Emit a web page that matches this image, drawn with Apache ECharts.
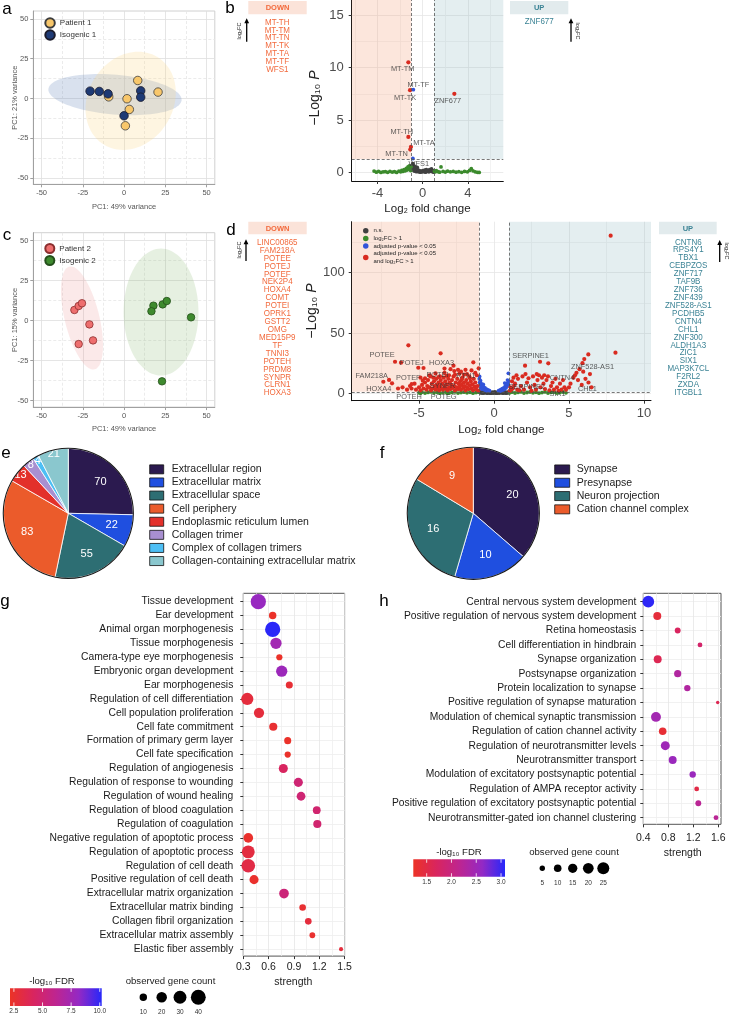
<!DOCTYPE html>
<html><head><meta charset="utf-8">
<script src="https://cdn.jsdelivr.net/npm/echarts@6/dist/echarts.min.js"></script>
<style>html,body{margin:0;padding:0;background:#fff}#c{width:731px;height:1015px}</style>
</head><body><div id="c"></div>
<script>
const FONT = 'Liberation Sans';

// ---------------- a : PCA patient 1 / isogenic 1 ----------------
const pcaAPatient  = [[8.3,11.3],[20.6,4.0],[-9.3,1.0],[1.8,-0.2],[3.2,-6.9],[0.8,-17.2]];
const pcaAIsogenic = [[-20.6,4.6],[-15.0,4.4],[-9.7,2.9],[10.1,4.8],[10.1,0.8],[0.0,-10.9]];
// ellipse: [centerX, centerY, radiusA, radiusB, angleDeg]
const pcaAEllipseIsogenic = [-5.5,2.4,40.5,12.5,-5];
const pcaAEllipsePatient  = [4,-1.5,32,26,63];
// ---------------- c : PCA patient 2 / isogenic 2 ----------------
const pcaCPatient  = [[-30.1,6.7],[-27.5,9.2],[-25.5,10.9],[-21.0,-2.3],[-27.5,-14.6],[-18.8,-12.3]];
const pcaCIsogenic = [[17.8,9.4],[16.6,5.9],[23.4,10.2],[25.9,12.3],[40.6,2.1],[23.0,-37.9]];
const pcaCEllipsePatient  = [-25.5,1.7,33,10.5,103.3];
const pcaCEllipseIsogenic = [22.4,5.4,22.7,39.7,0];
const pcaTicks = [-50,-25,0,25,50];
const pcaMinor = [-37.5,-12.5,12.5,37.5];

// ---------------- b : volcano 1 ----------------
const bDown = ['MT-TH','MT-TM','MT-TN','MT-TK','MT-TA','MT-TF','WFS1'];
const bUp = ['ZNF677'];
const bGray = [[-0.95,0.7],[-0.92,0.35],[-0.9,0.55],[-0.87,0.85],[-0.84,0.25],[-0.8,0.45],[-0.77,0.65],[-0.74,0.15],[-0.7,0.35],[-0.67,0.55],[-0.63,0.2],[-0.6,0.4],[-0.56,0.1],[-0.52,0.3],[-0.48,0.5],[-0.44,0.15],[-0.4,0.25],[-0.35,0.08],[-0.3,0.2],[-0.25,0.12],[-0.2,0.05],[-0.12,0.15],[-0.05,0.08],[0.02,0.2],[0.1,0.1],[0.18,0.25],[0.25,0.05],[0.32,0.3],[0.4,0.12],[0.48,0.22],[0.55,0.08],[0.62,0.28],[0.7,0.15],[0.78,0.35],[0.85,0.1],[0.92,0.2],[0.97,0.05]];
const bGreen = [[-4.3,0.15],[-4.1,0.05],[-3.9,0.12],[-3.7,0.03],[-3.5,0.08],[-3.3,0.1],[-3.1,0.04],[-2.9,0.12],[-2.7,0.06],[-2.5,0.1],[-2.3,0.03],[-2.1,0.15],[-1.95,0.08],[-1.85,0.22],[-1.75,0.12],[-1.65,0.3],[-1.55,0.18],[-1.45,0.4],[-1.38,0.25],[-1.3,0.55],[-1.24,0.35],[-1.18,0.65],[-1.12,0.45],[-1.06,0.2],[-1.03,0.55],[1.04,0.15],[1.1,0.08],[1.2,0.2],[1.35,0.1],[1.5,0.05],[1.62,0.55],[1.8,0.12],[2.0,0.06],[2.2,0.14],[2.45,0.08],[2.7,0.12],[2.95,0.05],[3.2,0.1],[3.45,0.04],[3.7,0.12],[3.95,0.08],[4.15,0.22],[4.3,0.38],[4.45,0.18],[4.65,0.08],[4.85,0.04],[5.0,0.03]];
const bBlue = [[-0.83,7.9],[-0.87,1.35]];
const bBlueNames = ['MT-TF','WFS1'];
const bRed = [[-1.27,10.5],[-1.12,7.85],[2.8,7.5],[-1.27,3.4],[-1.04,2.45],[-1.1,2.2]];
const bRedNames = ['MT-TM','MT-TK','ZNF677','MT-TH','MT-TA','MT-TN'];
const bXTicks = [-4,0,4], bXMinor = [-6,-2,2,6];
const bYTicks = [0,5,10,15], bYMinor = [2.5,7.5,12.5];

// ---------------- d : volcano 2 ----------------
const dDown = ['LINC00865','FAM218A','POTEE','POTEJ','POTEF','NEK2P4','HOXA4','COMT','POTEI','OPRK1','GSTT2','OMG','MED15P9','TF','TNNI3','POTEH','PRDM8','SYNPR','CLRN1','HOXA3'];
const dUp = ['CNTN6','RPS4Y1','TBX1','CEBPZOS','ZNF717','TAF9B','ZNF736','ZNF439','ZNF528-AS1','PCDHB5','CNTN4','CHL1','ZNF300','ALDH1A3','ZIC1','SIX1','MAP3K7CL','F2RL2','ZXDA','ITGBL1'];
const dGray = [[-0.95,1.0],[-0.9,0.5],[-0.85,1.2],[-0.8,0.3],[-0.75,0.9],[-0.7,0.2],[-0.65,0.7],[-0.6,1.1],[-0.55,0.4],[-0.5,0.8],[-0.45,0.1],[-0.4,0.6],[-0.35,1.0],[-0.3,0.3],[-0.25,0.7],[-0.2,0.1],[-0.15,0.5],[-0.1,0.9],[-0.05,0.2],[0,0.6],[0.05,1.1],[0.1,0.3],[0.15,0.8],[0.2,0.1],[0.25,0.5],[0.3,1.0],[0.35,0.2],[0.4,0.7],[0.45,1.2],[0.5,0.4],[0.55,0.9],[0.6,0.1],[0.65,0.6],[0.7,1.1],[0.75,0.3],[0.8,0.8],[0.85,0.2],[0.9,1.0],[0.95,0.5]];
const dGreen = [[-5.0,0.5],[-4.9,0.1],[-4.8,1.0],[-4.6,0.2],[-4.4,0.8],[-4.2,1.2],[-4.0,0.4],[-3.8,0.9],[-3.6,0.1],[-3.4,0.6],[-3.2,1.1],[-3.1,0.05],[-3.0,0.3],[-2.8,0.8],[-2.6,1.2],[-2.4,0.2],[-2.2,0.7],[-2.0,1.0],[-1.8,0.4],[-1.6,0.9],[-1.4,0.1],[-1.2,0.6],[-1.05,1.1],[1.05,0.5],[1.2,1.0],[1.4,0.3],[1.6,0.8],[1.8,1.2],[2.0,0.2],[2.2,0.7],[2.4,1.1],[2.6,0.4],[2.8,0.9],[3.0,0.1],[3.2,0.6],[3.4,1.2],[3.6,0.3],[3.8,0.8],[4.0,1.0],[4.2,0.2],[4.4,0.7],[4.6,1.1],[4.8,0.4]];
const dBlue = [[-0.98,12],[-0.96,14],[-0.95,9],[-0.92,7],[-0.9,10.5],[-0.88,5],[-0.85,8],[-0.82,3.5],[-0.8,6],[-0.75,4],[-0.72,7.5],[-0.7,5.5],[-0.65,3],[-0.6,4.5],[-0.55,2.5],[-0.5,3.5],[-0.45,2],[-0.4,2.8],[-0.35,1.8],[-0.3,2.2],[0.3,2],[0.35,2.5],[0.4,1.8],[0.45,3],[0.5,2.3],[0.55,3.8],[0.6,2.8],[0.65,4.5],[0.7,3.5],[0.72,8.5],[0.75,6],[0.8,4.5],[0.85,8],[0.88,6],[0.9,11],[0.93,7.5],[0.96,16.6],[0.98,10]];
const dRed = [[-5.71,39.8],[-6.2,25.4],[-4.7,21],[-2.7,22.9],[-2.4,19.5],[-1.38,25.7],[-1.02,20.7],[-7.0,11.1],[-6.8,8.3],[-3.3,20.5],[-2.9,20],[-1.8,16],[-1.5,19],[-4.3,15],[-3.9,16.5],[-3.6,14],[-2.6,15.5],[-6.1,5],[-6.4,4],[-5.8,3],[-5.5,4],[-5.3,8],[-5.6,6],
 [-5.2,3],[-5.0,5],[-4.8,7],[-4.7,4],[-4.6,9],[-4.45,6],[-4.4,11],[-4.3,5],[-4.2,2.5],[-4.15,8],[-4.1,4],[-4.0,10],[-3.95,6],[-3.9,3],[-3.85,12],[-3.8,7],[-3.75,4.5],[-3.7,9],[-3.55,11],[-3.5,4],[-3.45,8],[-3.4,3],[-3.35,13],[-3.3,6],[-3.25,10],[-3.2,4],[-3.15,7.5],[-3.1,2.5],[-3.05,12],[-3.0,5],[-2.95,9],[-2.9,3.5],[-2.85,7],[-2.8,11],[-2.75,4.5],[-2.7,14],[-2.65,6],[-2.6,2.5],[-2.55,9],[-2.5,5],[-2.45,12],[-2.4,3.5],[-2.35,8],[-2.3,5.5],[-2.25,10],[-2.2,3],[-2.15,7],[-2.1,13],[-2.05,4.5],[-2.0,9],[-1.95,6],[-1.9,2.5],[-1.85,11],[-1.8,5],[-1.75,8],[-1.7,3.5],[-1.65,14],[-1.6,6.5],[-1.55,10],[-1.5,4],[-1.45,7.5],[-1.4,2.5],[-1.35,12],[-1.3,5.5],[-1.25,9],[-1.2,3.5],[-1.15,15],[-1.1,6],[-1.05,2.2],[-4.9,13],[-4.6,12.5],[-3.0,15],[-2.0,15.5],[-4.25,14],[-3.7,13.5],[-2.3,16.5],[-4.75,10.5],[-4.05,13],[-3.15,14.5],[-2.15,11.5],[-1.6,12.5],[-1.25,17],[-1.9,19.5],[-2.65,18.5],
 [7.78,130.7],[8.1,33.7],[6.29,32.3],[6.02,28.4],[5.9,25],[5.5,17],[5.6,11],[6.1,12],[5.85,7],[6.5,5],[5.1,8],[4.7,5],[3.62,24.9],[2.07,22.9],[1.5,15],[1.3,13],[1.2,10],[1.1,5],[1.15,3],[1.4,8],[1.6,12],[1.8,6],[1.9,14],[2.0,3],[2.3,12.5],[2.4,5],[2.6,14],[2.7,7],[2.8,3],[2.9,11],[3.0,15],[3.1,5],[3.2,13],[3.3,8],[3.4,3.5],[3.5,11],[3.6,14],[3.8,6],[3.9,9],[4.0,3],[4.1,12],[4.2,5],[4.4,8],[4.6,11],[4.8,3],[5.0,5],[1.05,2],[1.25,4],[1.7,2.5],[2.5,2],[3.7,2.5],[4.3,2],[1.35,6.5],[1.55,3],[2.1,16],[2.85,16],[3.35,15],[5.4,15],[5.95,18],[6.4,16]];
const dRedLabeled = [['POTEE',-6.6,26.2],['POTEJ',-5.05,21.2],['HOXA3',-3.56,33.2],['FAM218A',-7.38,9.6],['POTEF',-5.49,7.7],['POTEI',-3.3,17],['RTN1',-2.2,18],['HOXA4',-4.5,3],['SYNPR',-3.6,6],['POTEH',-4.9,2.5],['POTEG',-3.65,2.5],['SERPINE1',3.07,26.2],['SERPINE2',2.2,9],['ZNF528-AS1',5.7,20],['CNTN4',5.3,13],['CHL1',6.3,9],['SIX1',4.5,3]];
const dXTicks = [-5,0,5,10], dXMinor = [-7.5,-2.5,2.5,7.5];
const dYTicks = [0,50,100], dYMinor = [25,75,125];
const fcCut = 1, pCut = 1.3;
const volcanoNames = ['n.s.','log₂FC > 1','adjusted p-value < 0.05','adjusted p-value < 0.05\nand log₂FC > 1'];

// ---------------- e / f : pies ----------------
const eNames = ['Extracellular region','Extracellular matrix','Extracellular space','Cell periphery','Endoplasmic reticulum lumen','Collagen trimer','Complex of collagen trimers','Collagen-containing extracellular matrix'];
const eValues = [70,22,55,83,13,8,4,21];
const fNames = ['Synapse','Presynapse','Neuron projection','Cation channel complex'];
const fValues = [20,10,16,9];

// ---------------- g : GO terms (patient 2) ----------------
const gTerms = ['Tissue development','Ear development','Animal organ morphogenesis','Tissue morphogenesis','Camera-type eye morphogenesis','Embryonic organ development','Ear morphogenesis','Regulation of cell differentiation','Cell population proliferation','Cell fate commitment','Formation of primary germ layer','Cell fate specification','Regulation of angiogenesis','Regulation of response to wounding','Regulation of wound healing','Regulation of blood coagulation','Regulation of coagulation','Negative regulation of apoptotic process','Regulation of apoptotic process','Regulation of cell death','Positive regulation of cell death','Extracellular matrix organization','Extracellular matrix binding','Collagen fibril organization','Extracellular matrix assembly','Elastic fiber assembly'];
const gStrength = [0.478,0.648,0.648,0.687,0.727,0.755,0.845,0.347,0.486,0.655,0.826,0.826,0.774,0.952,0.984,1.17,1.177,0.359,0.359,0.359,0.427,0.782,1.003,1.07,1.118,1.458];
const gFdr = [8.0,2.3,10.1,7.5,2.3,7.8,2.7,3.0,3.0,2.6,2.3,2.3,4.2,5.0,5.0,4.8,4.8,2.4,3.1,3.3,2.4,5.2,2.6,3.0,2.5,3.0];
const gCount = [42,10,42,23,7,23,9,27,19,12,9,7,15,15,14,11,12,17,30,34,15,17,8,8,6,3];
const gXTicks = [0.3,0.6,0.9,1.2,1.5], gXMinor = [0.45,0.75,1.05,1.35];
const gColorTicks = [2.5,5.0,7.5,10.0];
const gSizeTicks = [10,20,30,40];

// ---------------- h : GO terms (neuronal) ----------------
const hTerms = ['Central nervous system development','Positive regulation of nervous system development','Retina homeostasis','Cell differentiation in hindbrain','Synapse organization','Postsynapse organization','Protein localization to synapse','Positive regulation of synapse maturation','Modulation of chemical synaptic transmission','Regulation of cation channel activity','Regulation of neurotransmitter levels','Neurotransmitter transport','Modulation of excitatory postsynaptic potential','Regulation of AMPA receptor activity','Positive regulation of excitatory postsynaptic potential','Neurotransmitter-gated ion channel clustering'];
const hStrength = [0.48,0.624,0.95,1.307,0.63,0.95,1.104,1.59,0.603,0.71,0.752,0.87,1.19,1.254,1.28,1.563];
const hFdr = [3.05,1.4,1.7,1.8,1.6,2.3,2.3,1.6,2.45,1.35,2.5,2.55,2.55,1.5,2.2,2.2];
const hCount = [24,11,6,4,11,9,7,2,17,10,14,11,7,4,6,4];
const hXTicks = [0.4,0.8,1.2,1.6], hXMinor = [0.6,1.0,1.4];
const hColorTicks = [1.5,2.0,2.5,3.0];
const hSizeTicks = [5,10,15,20,25];

// ================= styles / layout =================
const C = {
  yellow:'#F8C76B', navy:'#1E3A75', salmon:'#EE6E6E', green2:'#3E8A2E',
  ns:'#404040', fc:'#3B8A2C', padj:'#3254D9', both:'#D92B20',
  downTxt:'#F26A3D', upTxt:'#3A8294', downBox:'#FBE3D9', upBox:'#E2EBED'
};
const eColors = ['#2B1A4F','#1F4FE0','#2D6E73','#EB5B2B','#E3302A','#A88FD0','#4DBFF5','#8AC7CE'];
const fColors = ['#2B1A4F','#1F4FE0','#2D6E73','#EB5B2B'];
const ramp = ['#EC3326','#D9255E','#BE2590','#9429C4','#2727FA'];
const gColorRange = [2.16,10.17], hColorRange = [1.23,3.08];
const gSize = n => 2.35*Math.sqrt(n), hSize = n => 2.4*Math.sqrt(n);
const labelOffsets = {
  'MT-TM':[-5.7,6.7],'MT-TF':[5,-4.4],'MT-TK':[-5,8],'ZNF677':[-6.6,6.8],'MT-TH':[-6.6,-5],'MT-TA':[13,-4.2],'MT-TN':[-13.6,4.4],'WFS1':[6,5.8],
  'POTEE':[-13,-7],'POTEJ':[-6.5,-4.4],'HOXA3':[1,9.4],'FAM218A':[-11.6,-5.7],'POTEF':[-3.4,-5.7],'POTEI':[-7,2.2],'RTN1':[4.8,4.1],'HOXA4':[-47.8,-0.7],'SYNPR':[2.5,0],'POTEH':[-11.5,7],'POTEG':[4.4,7],'SERPINE1':[-9.5,-5.7],'SERPINE2':[-0.3,4.3],'ZNF528-AS1':[13,-2.5],'CNTN4':[-11.5,0.7],'CHL1':[-1,6.6],'SIX1':[-4,4.6]
};

const ax = {
  a:{x:[-55,55], y:[-54,55]}, c:{x:[-55,55], y:[-54,55]},
  b:{x:[-6.28,7.13], y:[-0.79,16.43]}, d:{x:[-9.49,10.47], y:[-6.1,142.3]},
  g:{x:[0.3,1.5], y:[-0.6,25.5]}, h:{x:[0.4,1.643], y:[-0.583,15.46]}
};

const grids = [
  {left:33.3, top:11, width:181.5, height:173.3, show:true, borderColor:'#d0d0d0', borderWidth:1},
  {left:351.7, top:0, width:151.6, height:181},
  {left:33.3, top:232.7, width:181.5, height:174.4, show:true, borderColor:'#d0d0d0', borderWidth:1},
  {left:351.7, top:221.7, width:299.3, height:179},
  {left:243.3, top:593.3, width:101.3, height:362.8, show:true, borderColor:'#555', borderWidth:1},
  {left:643.3, top:593.3, width:77.7, height:231, show:true, borderColor:'#555', borderWidth:1}
].map(g => Object.assign({containLabel:false, outerBoundsMode:'none', backgroundColor:'transparent'}, g));

function mainAxis(p){
  return {
    type:'value', gridIndex:p.grid, min:p.range[0], max:p.range[1], position:p.pos, inverse:!!p.inverse,
    axisLine:{show:p.line!==false, onZero:false, lineStyle:{color:p.lineColor||'#000', width:1}},
    axisTick:{show:true, inside:false, length:p.tickLen||3, customValues:p.ticks, lineStyle:{color:p.tickColor||p.lineColor||'#333', width:1}},
    axisLabel:{show:true, customValues:p.ticks, margin:p.margin, color:p.labelColor, fontSize:p.labelSize, fontFamily:FONT, formatter:p.formatter||(v=>String(v))},
    splitLine:{show:!!p.split, lineStyle:{color:p.split||'#eee', width:0.8, type:'solid'}},
    minorTick:{show:false}, minorSplitLine:{show:false}
  };
}
function minorAxis(p){
  return {
    type:'value', gridIndex:p.grid, min:p.range[0], max:p.range[1], position:p.pos, inverse:!!p.inverse,
    axisLine:{show:false, onZero:false}, axisTick:{show:false, customValues:p.values},
    axisLabel:{show:false, customValues:p.values},
    splitLine:{show:true, lineStyle:{color:p.color, width:0.8, type:p.type||'solid'}}
  };
}
const pcaStyle = {lineColor:'#a0a0a0', tickColor:'#a0a0a0', labelColor:'#555', labelSize:7.5, margin:5, split:'#dedede'};
const volStyle = {lineColor:'#111', tickColor:'#333', labelColor:'#4d4d4d', labelSize:13, split:'#e6e6e6'};
const goStyle = {line:false, tickColor:'#333', labelColor:'#1a1a1a', labelSize:10.5, split:'#e6e6e6'};

const xAxis = [
  mainAxis(Object.assign({grid:0, range:ax.a.x, ticks:pcaTicks, pos:'bottom'}, pcaStyle)),
  minorAxis({grid:0, range:ax.a.x, values:pcaMinor, pos:'top', color:'#e6e6e6', type:[3,2]}),
  mainAxis(Object.assign({grid:1, range:ax.b.x, ticks:bXTicks, pos:'bottom', margin:6}, volStyle)),
  minorAxis({grid:1, range:ax.b.x, values:bXMinor, pos:'top', color:'#f0f0f0'}),
  mainAxis(Object.assign({grid:2, range:ax.c.x, ticks:pcaTicks, pos:'bottom'}, pcaStyle)),
  minorAxis({grid:2, range:ax.c.x, values:pcaMinor, pos:'top', color:'#e6e6e6', type:[3,2]}),
  mainAxis(Object.assign({grid:3, range:ax.d.x, ticks:dXTicks, pos:'bottom', margin:6}, volStyle)),
  minorAxis({grid:3, range:ax.d.x, values:dXMinor, pos:'top', color:'#f0f0f0'}),
  mainAxis(Object.assign({grid:4, range:ax.g.x, ticks:gXTicks, pos:'bottom', margin:6, formatter:v=>v.toFixed(1)}, goStyle)),
  minorAxis({grid:4, range:ax.g.x, values:gXMinor, pos:'top', color:'#efefef'}),
  mainAxis(Object.assign({grid:5, range:ax.h.x, ticks:hXTicks, pos:'bottom', margin:8, formatter:v=>v.toFixed(1)}, goStyle)),
  minorAxis({grid:5, range:ax.h.x, values:hXMinor, pos:'top', color:'#efefef'})
];
const gIdx = gTerms.map((t,i)=>i), hIdx = hTerms.map((t,i)=>i);
const yAxis = [
  mainAxis(Object.assign({grid:0, range:ax.a.y, ticks:pcaTicks, pos:'left'}, pcaStyle)),
  minorAxis({grid:0, range:ax.a.y, values:pcaMinor, pos:'right', color:'#e6e6e6', type:[3,2]}),
  mainAxis(Object.assign({grid:1, range:ax.b.y, ticks:bYTicks, pos:'left', margin:8}, volStyle)),
  minorAxis({grid:1, range:ax.b.y, values:bYMinor, pos:'right', color:'#f0f0f0'}),
  mainAxis(Object.assign({grid:2, range:ax.c.y, ticks:pcaTicks, pos:'left'}, pcaStyle)),
  minorAxis({grid:2, range:ax.c.y, values:pcaMinor, pos:'right', color:'#e6e6e6', type:[3,2]}),
  mainAxis(Object.assign({grid:3, range:ax.d.y, ticks:dYTicks, pos:'left', margin:7}, volStyle)),
  minorAxis({grid:3, range:ax.d.y, values:dYMinor, pos:'right', color:'#f0f0f0'}),
  mainAxis(Object.assign({grid:4, range:ax.g.y, ticks:gIdx, pos:'left', inverse:true, margin:10, formatter:v=>gTerms[Math.round(v)]}, goStyle, {split:'#ededed', labelSize:10.3})),
  mainAxis(Object.assign({grid:5, range:ax.h.y, ticks:hIdx, pos:'left', inverse:true, margin:7, formatter:v=>hTerms[Math.round(v)]}, goStyle, {split:'#ededed', labelSize:10.3}))
];

function ellipseRender(params, api){
  const cx=api.value(0), cy=api.value(1), ra=api.value(2), rb=api.value(3), a=api.value(4)*Math.PI/180;
  const pts=[];
  for(let k=0;k<96;k++){
    const t=k/96*2*Math.PI;
    pts.push(api.coord([cx+ra*Math.cos(t)*Math.cos(a)-rb*Math.sin(t)*Math.sin(a), cy+ra*Math.cos(t)*Math.sin(a)+rb*Math.sin(t)*Math.cos(a)]));
  }
  return {type:'polygon', shape:{points:pts}, style:{fill:api.visual('color')}};
}

const series = [];
function add(s){ series.push(Object.assign({emphasis:{disabled:true}, animation:false}, s)); return series.length-1; }

// PCA a
add({type:'custom', xAxisIndex:0, yAxisIndex:0, renderItem:ellipseRender, silent:true, z:1, encode:{x:0,y:1},
  data:[{value:pcaAEllipseIsogenic, itemStyle:{color:'rgba(110,140,190,0.26)'}},{value:pcaAEllipsePatient, itemStyle:{color:'rgba(250,215,130,0.24)'}}]});
add({type:'scatter', name:'Patient 1', xAxisIndex:0, yAxisIndex:0, data:pcaAPatient, symbolSize:8.5, z:3, itemStyle:{color:C.yellow, borderColor:'#3c3c3c', borderWidth:0.8, opacity:1}});
add({type:'scatter', name:'Isogenic 1', xAxisIndex:0, yAxisIndex:0, data:pcaAIsogenic, symbolSize:8.5, z:3, itemStyle:{color:C.navy, borderColor:'#1a1a2a', borderWidth:0.8, opacity:1}});
// PCA c
add({type:'custom', xAxisIndex:4, yAxisIndex:4, renderItem:ellipseRender, silent:true, z:1, encode:{x:0,y:1},
  data:[{value:pcaCEllipsePatient, itemStyle:{color:'rgba(235,140,140,0.19)'}},{value:pcaCEllipseIsogenic, itemStyle:{color:'rgba(130,180,105,0.2)'}}]});
add({type:'scatter', name:'Patient 2', xAxisIndex:4, yAxisIndex:4, data:pcaCPatient, symbolSize:7.5, z:3, itemStyle:{color:C.salmon, borderColor:'#8B2E2E', borderWidth:0.8, opacity:1}});
add({type:'scatter', name:'Isogenic 2', xAxisIndex:4, yAxisIndex:4, data:pcaCIsogenic, symbolSize:7.5, z:3, itemStyle:{color:C.green2, borderColor:'#244F1B', borderWidth:0.8, opacity:1}});

// volcano builder
function volcano(xi, yi, rng, gray, green, blue, red, labeled){
  add({type:'scatter', xAxisIndex:xi, yAxisIndex:yi, data:[], silent:true, z:1,
    markArea:{silent:true, data:[
      [{coord:[rng.x[0], pCut], itemStyle:{color:'rgba(244,160,120,0.26)'}}, {coord:[-fcCut, rng.y[1]]}],
      [{coord:[fcCut, pCut], itemStyle:{color:'rgba(140,180,190,0.23)'}}, {coord:[rng.x[1], rng.y[1]]}]
    ]},
    markLine:{silent:true, symbol:'none', label:{show:false}, lineStyle:{type:[3,2], color:'#555', width:0.8},
      data:[{xAxis:-fcCut},{xAxis:fcCut},{yAxis:pCut}]}
  });
  add({type:'scatter', name:volcanoNames[0], xAxisIndex:xi, yAxisIndex:yi, data:gray, symbolSize:3.8, z:2, itemStyle:{color:C.ns, opacity:1}});
  add({type:'scatter', name:volcanoNames[1], xAxisIndex:xi, yAxisIndex:yi, data:green, symbolSize:3.8, z:2, itemStyle:{color:C.fc, opacity:1}});
  add({type:'scatter', name:volcanoNames[2], xAxisIndex:xi, yAxisIndex:yi, data:blue, symbolSize:3.8, z:2, itemStyle:{color:C.padj, opacity:1}});
  add({type:'scatter', name:volcanoNames[3], xAxisIndex:xi, yAxisIndex:yi, data:red, symbolSize:4.2, z:2, itemStyle:{color:C.both, opacity:1}});
  add({type:'scatter', xAxisIndex:xi, yAxisIndex:yi, silent:true, z:5, symbolSize:1, itemStyle:{color:'rgba(0,0,0,0)'},
    label:{show:true, position:'inside', formatter:'{b}', fontSize:7.4, color:'#333', fontFamily:FONT},
    data:labeled.map(l=>({name:l[0], value:[l[1],l[2]], label:{offset:labelOffsets[l[0]]||[0,0]}}))});
}
volcano(2,2,ax.b,bGray,bGreen,bBlue,bRed,
  bRed.map((p,i)=>[bRedNames[i],p[0],p[1]]).concat(bBlue.map((p,i)=>[bBlueNames[i],p[0],p[1]])));
volcano(6,6,ax.d,dGray,dGreen,dBlue,dRed.concat(dRedLabeled.map(l=>[l[1],l[2]])),dRedLabeled);

// pies
function pie(center, r, names, values, colors, labelRadiusBig, labelRadiusSmall, smallFrac){
  const total = values.reduce((a,b)=>a+b,0);
  const base = {type:'pie', center, startAngle:90, clockwise:true, avoidLabelOverlap:false, labelLine:{show:false}, emphasis:{disabled:true}};
  add(Object.assign({}, base, {radius:[0,r], z:2, label:{show:false}, itemStyle:{borderColor:'#fff', borderWidth:0.8},
    data:names.map((n,i)=>({name:n, value:values[i], itemStyle:{color:colors[i]}}))}));
  [[labelRadiusBig, v=>v/total>=smallFrac],[labelRadiusSmall, v=>v/total<smallFrac]].forEach(([rr,test])=>{
    add(Object.assign({}, base, {radius:rr, z:3, silent:true, itemStyle:{color:'rgba(0,0,0,0)'},
      label:{show:true, position:'inside', color:'#fff', fontSize:11, fontFamily:FONT, formatter:'{c}'},
      data:names.map((n,i)=>({name:n, value:values[i], label:{show:test(values[i])}}))}));
  });
  add(Object.assign({}, base, {radius:[r-0.5,r+0.6], z:4, silent:true, label:{show:false}, itemStyle:{color:'#1a1a1a'}, data:[{value:1, name:''}]}));
}
pie([68.3,513.3], 65, eNames, eValues, eColors, [19,65], [51,65], 0.078);
pie([473.3,513.3], 66, fNames, fValues, fColors, [14,66], [14,66], 0);

// GO bubble charts
const gSeries = add({type:'scatter', xAxisIndex:8, yAxisIndex:8, z:3, itemStyle:{opacity:1},
  data:gTerms.map((t,i)=>[gStrength[i], i, gFdr[i], gCount[i]]), symbolSize:v=>gSize(v[3])});
const hSeries = add({type:'scatter', xAxisIndex:10, yAxisIndex:9, z:3, itemStyle:{opacity:1},
  data:hTerms.map((t,i)=>[hStrength[i], i, hFdr[i], hCount[i]]), symbolSize:v=>hSize(v[3])});

// ================= graphic (titles, annotations, legends) =================
const graphic = [];
function txt(x, y, text, size, color, o){
  o = o || {};
  const st = {x:0, y:0, text, fill:color, fontSize:size, fontFamily:o.family||FONT, fontWeight:o.weight||'normal',
    textAlign:o.align||'center', align:o.align||'center', textVerticalAlign:'middle', verticalAlign:'middle'};
  if (o.rich) st.rich = o.rich;
  graphic.push({type:'text', x, y, rotation:o.rot||0, scaleX:o.sx||1, z:100, silent:true, style:st});
}
function rect(x,y,w,h,fill,stroke){ graphic.push({type:'rect', z:90, silent:true, shape:{x,y,width:w,height:h}, style:{fill, stroke:stroke||null, lineWidth:stroke?0.8:0}}); }
function line(x1,y1,x2,y2,color,w){ graphic.push({type:'line', z:95, silent:true, shape:{x1,y1,x2,y2}, style:{stroke:color, lineWidth:w||1}}); }
function arrow(x, yTop, yBot){
  line(x, yBot, x, yTop+4, '#000', 1.3);
  graphic.push({type:'polygon', z:95, silent:true, shape:{points:[[x-2.4,yTop+5],[x+2.4,yTop+5],[x,yTop]]}, style:{fill:'#000'}});
}
// panel letters
[['a',7,9],['b',230,8],['c',7,235],['d',231,230],['e',6,453],['f',382,453],['g',5,601],['h',384,601]].forEach(l=>txt(l[1],l[2],l[0],17,'#000'));
// PCA axis names
txt(124,207,'PC1: 49% variance',7.5,'#555');
txt(15,97.7,'PC1: 21% variance',7.5,'#555',{rot:Math.PI/2});
txt(124,429,'PC1: 49% variance',7.5,'#555');
txt(15,320,'PC1: 15% variance',7.5,'#555',{rot:Math.PI/2});
// volcano axis names
const richP = {a:{fontSize:14, fontFamily:FONT, fill:'#222'}, i:{fontSize:14, fontFamily:FONT, fontStyle:'italic', fill:'#222'}};
txt(427.5,209.3,'Log₂ fold change',11.5,'#222');
txt(315,98,'{a|−Log₁₀ }{i|P}',14,'#222',{rot:Math.PI/2, rich:richP});
txt(501.3,430,'Log₂ fold change',11.5,'#222');
txt(311.7,311,'{a|−Log₁₀ }{i|P}',14,'#222',{rot:Math.PI/2, rich:richP});
// DOWN / UP boxes and lists
function sideList(box, title, titleColor, fill, genes, cx, y0, dy, color){
  rect(box[0], box[1], box[2], box[3], fill);
  txt(box[0]+box[2]/2, box[1]+box[3]/2+0.5, title, 7.5, titleColor, {weight:'bold'});
  genes.forEach((g,i)=>txt(cx, y0+i*dy, g, 9.3, color, {sx:0.86}));
}
sideList([248.3,1,58.4,13.3],'DOWN',C.downTxt,C.downBox,bDown,277.3,22.3,7.8,C.downTxt);
sideList([510,1,58.3,13.3],'UP',C.upTxt,C.upBox,bUp,539.3,21,7.8,C.upTxt);
sideList([248.3,221.7,58.4,12.6],'DOWN',C.downTxt,C.downBox,dDown,277.3,242.3,7.92,C.downTxt);
sideList([659,221.7,57.7,12.6],'UP',C.upTxt,C.upBox,dUp,688.3,242,7.92,C.upTxt);
arrow(246.7,18.3,41.7); txt(239.5,31,'log₂FC',5.5,'#222',{rot:Math.PI/2});
arrow(571,18.3,41.7);   txt(578,31,'log₂FC',5.5,'#222',{rot:-Math.PI/2});
arrow(246,239.3,261);   txt(239.5,250,'log₂FC',5.5,'#222',{rot:Math.PI/2});
arrow(719.7,240,262);   txt(727,251,'log₂FC',5.5,'#222',{rot:-Math.PI/2});
// GO legends
function colorbar(x,y,w,h,range,ticks,titleX,titleY){
  graphic.push({type:'rect', z:90, silent:true, shape:{x,y,width:w,height:h},
    style:{fill:new echarts.graphic.LinearGradient(0,0,1,0, ramp.map((c,i)=>({offset:i/(ramp.length-1), color:c})))}});
  ticks.forEach(t=>{
    const px = x + (t-range[0])/(range[1]-range[0])*w;
    line(px,y,px,y+h*0.2,'#fff',0.8); line(px,y+h*0.8,px,y+h,'#fff',0.8);
    txt(px, y+h+5.5, t.toFixed(1), 6.5, '#333');
  });
  txt(titleX,titleY,'-log₁₀ FDR',9.6,'#222');
}
function sizeLegend(xs, cy, counts, fn, titleX, titleY){
  counts.forEach((n,i)=>{
    graphic.push({type:'circle', z:90, silent:true, shape:{cx:xs[i], cy, r:fn(n)/2}, style:{fill:'#000'}});
    txt(xs[i], cy+15, String(n), 6.5, '#333');
  });
  txt(titleX,titleY,'observed gene count',9.6,'#222');
}
colorbar(10,988.3,91.7,17.7,gColorRange,gColorTicks,52,981.7);
sizeLegend([143.3,161.7,180,198.3],997.3,gSizeTicks,gSize,170.5,981.7);
txt(293.3,981.7,'strength',10.5,'#222');
colorbar(413.3,859.3,91.7,17.4,hColorRange,hColorTicks,459,852);
sizeLegend([542.3,557.7,572.7,588.3,603.3],868.3,hSizeTicks,hSize,574,852);
txt(682.7,852.7,'strength',10.5,'#222');

const legendBase = {orient:'vertical', padding:0, selectedMode:false, textStyle:{fontFamily:FONT}};
const option = {
  animation:false, backgroundColor:'#fff', textStyle:{fontFamily:FONT},
  grid:grids, xAxis, yAxis, series, graphic,
  visualMap:[
    {type:'continuous', show:false, seriesIndex:gSeries, dimension:2, min:gColorRange[0], max:gColorRange[1], inRange:{color:ramp}},
    {type:'continuous', show:false, seriesIndex:hSeries, dimension:2, min:hColorRange[0], max:hColorRange[1], inRange:{color:ramp}}
  ],
  legend:[
    Object.assign({}, legendBase, {data:['Patient 1','Isogenic 1'], left:44.3, top:17.3, icon:'circle', itemWidth:9.5, itemHeight:9.5, itemGap:0.5, textStyle:{fontFamily:FONT, fontSize:8, color:'#333'}}),
    Object.assign({}, legendBase, {data:['Patient 2','Isogenic 2'], left:44.3, top:243, icon:'circle', itemWidth:9, itemHeight:9, itemGap:1, textStyle:{fontFamily:FONT, fontSize:8, color:'#333'}}),
    Object.assign({}, legendBase, {data:volcanoNames, left:363, top:227, icon:'circle', itemWidth:5.5, itemHeight:5.5, itemGap:0, textStyle:{fontFamily:FONT, fontSize:6, lineHeight:7.6, color:'#222'}}),
    Object.assign({}, legendBase, {data:eNames, left:149.3, top:462.8, icon:'rect', itemWidth:14, itemHeight:9, itemGap:0, itemStyle:{borderColor:'#111', borderWidth:0.8}, textStyle:{fontFamily:FONT, fontSize:10.5, lineHeight:13.1, color:'#222', padding:[0,0,0,3]}}),
    Object.assign({}, legendBase, {data:fNames, left:554.3, top:462.8, icon:'rect', itemWidth:15, itemHeight:9, itemGap:0, itemStyle:{borderColor:'#111', borderWidth:0.8}, textStyle:{fontFamily:FONT, fontSize:10.5, lineHeight:13.3, color:'#222', padding:[0,0,0,2]}})
  ]
};
const chart = echarts.init(document.getElementById('c'), null, {renderer:'canvas', width:731, height:1015});
chart.setOption(option);
</script></body></html>
